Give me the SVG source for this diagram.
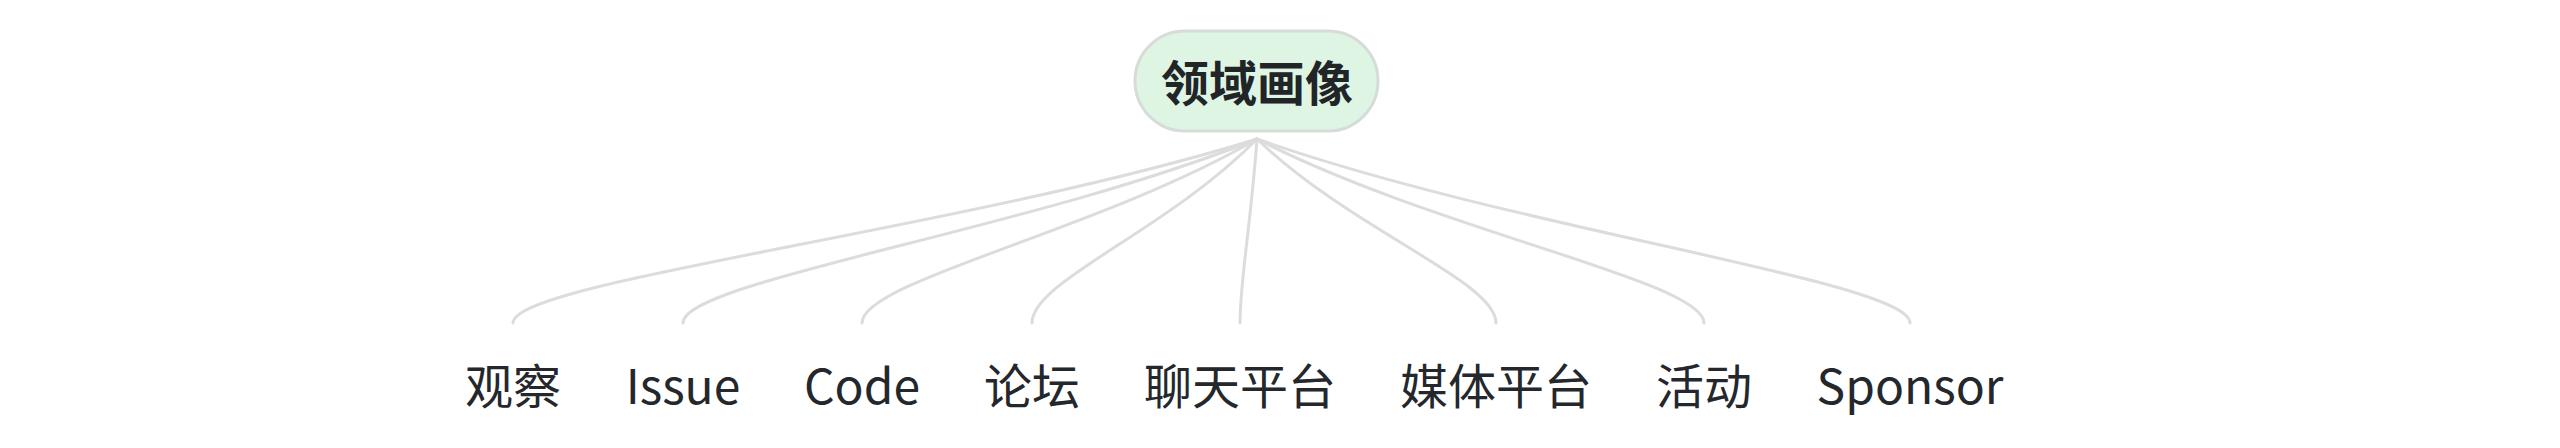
<svg xmlns="http://www.w3.org/2000/svg" width="2560" height="448" viewBox="0 0 2560 448">
<style>
.edge{fill:none;stroke:#dcdcdc;stroke-width:3;stroke-linecap:round}
.leaf{font-family:"Noto Sans CJK SC","Noto Sans",sans-serif;font-size:48px;fill:#24272b;text-anchor:middle}
.rootbox{fill:#dff5e4;stroke:#d6dcd8;stroke-width:3}
.roottext{font-family:"Noto Sans CJK SC","Noto Sans",sans-serif;font-size:48px;font-weight:bold;fill:#222528;text-anchor:middle}
</style>
<rect width="2560" height="448" fill="#ffffff"/>
<g id="connectors">
<path class="edge" d="M1257,139 C959.4,231 513,281 513,323"/>
<path class="edge" d="M1257,139 C1027.4,231 683,281 683,323"/>
<path class="edge" d="M1257,139 C1099,231 862,281 862,323"/>
<path class="edge" d="M1257,139 C1167,231 1032,281 1032,323"/>
<path class="edge" d="M1257,139 C1250.2,231 1240,281 1240,323"/>
<path class="edge" d="M1257,139 C1352.6,231 1496,281 1496,323"/>
<path class="edge" d="M1257,139 C1435.8,231 1704,281 1704,323"/>
<path class="edge" d="M1257,139 C1518.2,231 1910,281 1910,323"/>
</g>
<g id="root">
<rect class="rootbox" x="1135" y="31" width="243" height="100" rx="50" ry="50"/>
<text class="roottext" x="1257" y="101">领域画像</text>
</g>
<g id="n-guancha"><text class="leaf" x="513" y="404">观察</text></g>
<g id="n-issue"><text class="leaf" x="683" y="404">Issue</text></g>
<g id="n-code"><text class="leaf" x="862" y="404">Code</text></g>
<g id="n-luntan"><text class="leaf" x="1032" y="404">论坛</text></g>
<g id="n-liaotian"><text class="leaf" x="1240" y="404">聊天平台</text></g>
<g id="n-meiti"><text class="leaf" x="1496" y="404">媒体平台</text></g>
<g id="n-huodong"><text class="leaf" x="1704" y="404">活动</text></g>
<g id="n-sponsor"><text class="leaf" x="1910" y="404">Sponsor</text></g>
</svg>
